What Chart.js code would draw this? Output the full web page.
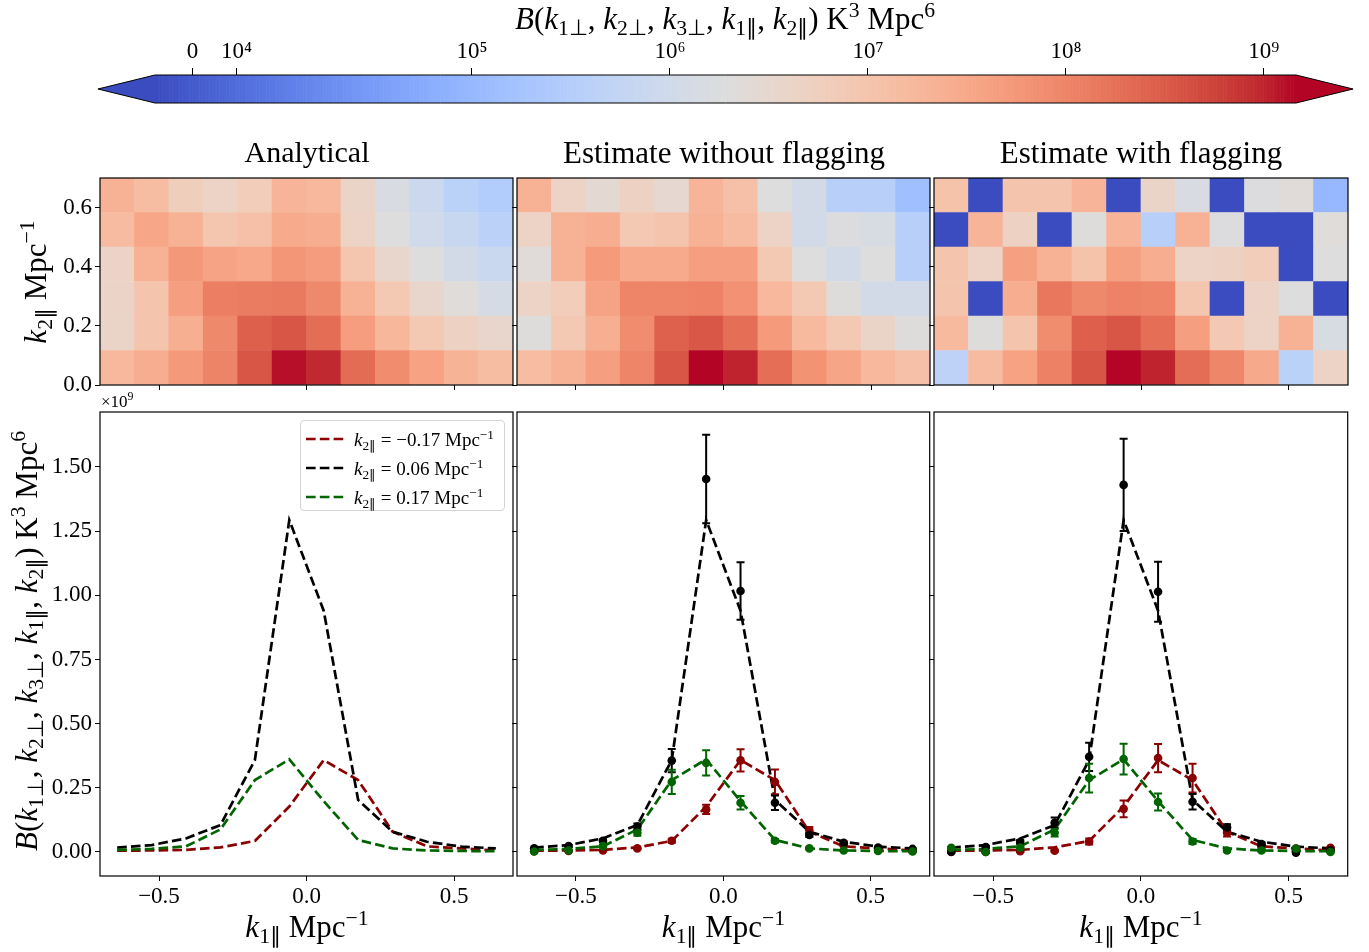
<!DOCTYPE html>
<html><head><meta charset="utf-8">
<script src="https://cdn.jsdelivr.net/npm/chart.js@4.4.1/dist/chart.umd.min.js"></script>
<style>
body{margin:0;background:#fff;}
#root{position:relative;width:1369px;height:952px;overflow:hidden;font-family:'Liberation Serif','Times New Roman',serif;color:#000;}
canvas{position:absolute;}
.lbl{position:absolute;white-space:nowrap;line-height:1;}
.lbl sub{font-size:70%;vertical-align:-0.3em;line-height:0;}
.lbl sup{font-size:70%;vertical-align:0.55em;line-height:0;}
#legend{position:absolute;left:300px;top:420px;width:205px;height:91px;border:1px solid #d4d4d4;border-radius:4px;background:rgba(255,255,255,0.85);box-sizing:border-box;}
#legend .row{position:absolute;left:0;height:22px;width:100%;}
#legend svg{position:absolute;left:5px;top:5px;}
#legend .txt{position:absolute;left:53px;top:1px;font-size:19px;white-space:nowrap;}
#legend sub{font-size:70%;vertical-align:-0.3em;line-height:0;}
#legend sup{font-size:70%;vertical-align:0.55em;line-height:0;}
</style></head>
<body><div id="root"></div>
<script>
// ---------------- DATA ----------------
// k1|| bin centres (Mpc^-1), shared by the heatmap columns and the line plots
const k1Centers = [-0.6417, -0.525, -0.4083, -0.2917, -0.175, -0.0583, 0.0583, 0.175, 0.2917, 0.4083, 0.525, 0.6417];
// k2|| bin edges of the heatmap rows (Mpc^-1)
const k2Edges = [0, 0.1167, 0.2333, 0.35, 0.4667, 0.5833, 0.7];

// Heatmaps: B in K^3 Mpc^6, rows from k2|| = 0.06 (bottom) to 0.64 (top)
const heatAnalytical = [
  [1.7e7, 2.7e7, 5.3e7, 1.05e8, 3.58e8, 1.29e9, 9.4e8, 2.03e8, 7.9e7, 4.0e7, 2.1e7, 1.4e7],
  [4e6, 1e7, 2.5e7, 9e7, 2.8e8, 3.6e8, 2e8, 4.7e7, 1.8e7, 8e6, 5e6, 3.5e6],
  [4.2e6, 1e7, 4.5e7, 1.2e8, 1.3e8, 1.4e8, 9e7, 2.2e7, 8e6, 3.5e6, 2.1e6, 1.3e6],
  [4.5e6, 2.2e7, 5.5e7, 3.8e7, 3.2e7, 6e7, 4.8e7, 9e6, 3.5e6, 1.9e6, 1.1e6, 7.5e5],
  [1.5e7, 3.5e7, 2.2e7, 9e6, 1.2e7, 3e7, 2.6e7, 4.5e6, 1.9e6, 1e6, 7e5, 4.2e5],
  [2.2e7, 1.4e7, 6e6, 4.5e6, 6.5e6, 2e7, 1.7e7, 4e6, 1.5e6, 8e5, 4e5, 2.8e5]
];
const heatNoFlag = [
  [1.4e7, 2.3e7, 4.4e7, 9.9e7, 3.56e8, 1.453e9, 1.017e9, 1.92e8, 6.6e7, 3.6e7, 1.7e7, 1.2e7],
  [2e6, 8e6, 2.5e7, 8e7, 2.73e8, 3.47e8, 1.92e8, 5e7, 1.6e7, 8e6, 4e6, 2e6],
  [4.5e6, 6.5e6, 3.8e7, 1e8, 1e8, 1.1e8, 7e7, 1.7e7, 8e6, 2e6, 1.1e6, 1.1e6],
  [2.2e6, 2.3e7, 5e7, 3e7, 3e7, 4.5e7, 4.5e7, 8e6, 1.9e6, 1.1e6, 1.9e6, 3.5e5],
  [4.5e6, 2.2e7, 2.6e7, 8e6, 1e7, 2.3e7, 1.5e7, 4.5e6, 1.1e6, 1.8e6, 1.4e6, 3.5e5],
  [2.2e7, 4.5e6, 2.8e6, 5e6, 3e6, 2e7, 1.2e7, 1.9e6, 1.1e6, 3.5e5, 3.5e5, 1.4e5]
];
// flagged cells carry a negative value (below the colour-scale minimum)
const heatFlag = [
  [4.5e5, 1.5e7, 4e7, 1.14e8, 3.71e8, 1.43e9, 1.014e9, 1.96e8, 9.6e7, 3.1e7, 4e5, 4.5e6],
  [1.6e7, 2e6, 1e7, 8e7, 2.88e8, 3.62e8, 1.95e8, 4.5e7, 8e6, 4.5e6, 2.2e7, 1.4e6],
  [1e7, -9e3, 2.6e7, 1.5e8, 9e7, 1.1e8, 1e8, 9e6, -9e3, 4.5e6, 1.9e6, -9e3],
  [1e7, 4.5e6, 4.3e7, 2.2e7, 1.1e7, 4.3e7, 2.6e7, 4.5e6, 5e6, 6.5e6, -9e3, 1.9e6],
  [-9e3, 2e7, 5e6, -9e3, 2e6, 2e7, 3.5e5, 2.2e7, 1.8e6, -9e3, -9e3, 2.1e6],
  [1.1e7, -9e3, 1e7, 1e7, 2e7, -9e3, 4e6, 1.5e6, -9e3, 1.8e6, 2.2e6, 1e5]
];

// Line plots: B in units of 1e9 K^3 Mpc^6
const seriesK2 = [-0.17, 0.06, 0.17];
const seriesColors = ['#8b0000', '#000000', '#006400'];
const analyticRed   = [0.005, 0.006, 0.008, 0.018, 0.043, 0.177, 0.358, 0.280, 0.079, 0.022, 0.014, 0.006];
const analyticBlack = [0.017, 0.027, 0.053, 0.105, 0.358, 1.293, 0.940, 0.203, 0.079, 0.040, 0.021, 0.014];
const analyticGreen = [0.008, 0.012, 0.022, 0.088, 0.280, 0.361, 0.198, 0.047, 0.014, 0.006, 0.004, 0.003];

const noFlagRed   = [0.003, 0.004, 0.006, 0.014, 0.044, 0.166, 0.357, 0.273, 0.085, 0.026, 0.006, 0.004];
const noFlagBlack = [0.014, 0.023, 0.044, 0.099, 0.356, 1.453, 1.017, 0.192, 0.066, 0.036, 0.017, 0.012];
const noFlagGreen = [0.002, 0.006, 0.023, 0.075, 0.273, 0.347, 0.192, 0.044, 0.014, 0.006, 0.004, 0.002];
const noFlagErrRed   = [0.001, 0.001, 0.002, 0.003, 0.008, 0.018, 0.043, 0.048, 0.012, 0.004, 0.002, 0.001];
const noFlagErrBlack = [0.003, 0.004, 0.006, 0.012, 0.045, 0.172, 0.112, 0.028, 0.008, 0.005, 0.003, 0.002];
const noFlagErrGreen = [0.001, 0.002, 0.004, 0.012, 0.047, 0.049, 0.026, 0.007, 0.003, 0.002, 0.001, 0.001];

const flagRed   = [0.000, 0.000, 0.003, 0.005, 0.041, 0.168, 0.366, 0.288, 0.075, 0.022, 0.013, 0.016];
const flagBlack = [0.001, 0.019, 0.039, 0.114, 0.371, 1.430, 1.014, 0.196, 0.096, 0.031, -0.003, 0.007];
const flagGreen = [0.016, 0.000, 0.017, 0.075, 0.288, 0.362, 0.195, 0.041, 0.006, 0.006, 0.013, 0.000];
const flagErrRed   = [0.002, 0.002, 0.003, 0.004, 0.012, 0.033, 0.055, 0.056, 0.015, 0.005, 0.003, 0.003];
const flagErrBlack = [0.004, 0.005, 0.008, 0.020, 0.055, 0.180, 0.117, 0.030, 0.012, 0.006, 0.004, 0.003];
const flagErrGreen = [0.003, 0.002, 0.004, 0.015, 0.056, 0.060, 0.033, 0.010, 0.004, 0.003, 0.003, 0.002];

// Ticks
const k1Ticks = [-0.5, 0, 0.5];
const k2Ticks = [0, 0.2, 0.4, 0.6];
const bTicks = [0, 0.25, 0.5, 0.75, 1.0, 1.25, 1.5];
const cbTicks = [0, 1e4, 1e5, 1e6, 1e7, 1e8, 1e9];
const cbTickLabels = ['0', '10⁴', '10⁵', '10⁶', '10⁷', '10⁸', '10⁹'];

// ---------------- COLOUR NORM (symlog + coolwarm) ----------------
const LINTHRESH = 5e4, LINSCALE = 1, VMIN = -8.5e3, VMAX = 1.453e9;
const linA = LINSCALE / (1 - 1 / 10);
function symlog(v) { const a = Math.abs(v), s = v < 0 ? -1 : 1; return s * (a <= LINTHRESH ? a / LINTHRESH * linA : linA + Math.log10(a / LINTHRESH)); }
const PMIN = symlog(VMIN), PMAX = symlog(VMAX);
const CW_R = [0.2298057,0.26623388,0.30386891,0.342804478,0.38301334,0.424369608,0.46666708,0.509635204,0.552953156,0.596262162,0.639176211,0.681291281,0.722193294,0.761464949,0.798691636,0.833466556,0.865395197,0.897787179,0.924127593,0.944468518,0.958852946,0.96732803,0.969954137,0.966811177,0.958003065,0.943660866,0.923944917,0.89904617,0.869186849,0.834620542,0.795631745,0.752534934,0.705673158];
const CW_G = [0.298717966,0.353094838,0.406535296,0.458757618,0.50941904,0.558148092,0.604562568,0.648280772,0.688929332,0.726149107,0.759599947,0.788964712,0.813952739,0.834302879,0.849786142,0.860207984,0.86541021,0.848937047,0.827384882,0.800927443,0.769767752,0.734132809,0.694266682,0.650421156,0.602842431,0.551750968,0.49730856,0.439559467,0.378313092,0.312874446,0.24128379,0.157246067,0.01555616];
const CW_B = [0.753683153,0.801466763,0.84495867,0.883725899,0.917387822,0.945619588,0.968154911,0.98478814,0.995375608,0.999836203,0.998151185,0.990363227,0.976574709,0.956945269,0.931688648,0.901068838,0.865395561,0.820880546,0.774508472,0.726736146,0.678007945,0.628751763,0.579375448,0.530263762,0.481775914,0.434243684,0.387970225,0.343229596,0.300267182,0.259301199,0.220525627,0.184115123,0.150232812];
function coolwarm(t) {
  t = Math.max(0, Math.min(1, t));
  const f = t * 32, i = Math.min(31, Math.floor(f)), u = f - i;
  const c = arr => Math.round(255 * (arr[i] + (arr[i + 1] - arr[i]) * u));
  return 'rgb(' + c(CW_R) + ',' + c(CW_G) + ',' + c(CW_B) + ')';
}
function cellColor(v) { return coolwarm((symlog(v) - PMIN) / (PMAX - PMIN)); }

// ---------------- HELPERS ----------------
const FONT = "'Liberation Serif','Times New Roman',serif";
Chart.defaults.font.family = FONT;
Chart.defaults.color = '#000';
const root = document.getElementById('root');
function mkCanvas(left, top, w, h) {
  const c = document.createElement('canvas');
  c.width = w; c.height = h;
  c.style.left = left + 'px'; c.style.top = top + 'px';
  c.style.width = w + 'px'; c.style.height = h + 'px';
  root.appendChild(c);
  return c;
}
function addLabel(html, x, y, size, rot) {
  const d = document.createElement('div');
  d.className = 'lbl';
  d.innerHTML = html;
  d.style.left = x + 'px'; d.style.top = y + 'px'; d.style.fontSize = size + 'px';
  d.style.transform = 'translate(-50%,-50%)' + (rot ? ' rotate(-90deg)' : '');
  root.appendChild(d);
}
const fmt = (v, d) => (v < 0 ? '−' : '') + Math.abs(v).toFixed(d);
const gridOpts = { display: true, drawOnChartArea: false, drawTicks: true, tickLength: 5, color: '#000', lineWidth: 1, offset: false };
const framePlugin = {
  id: 'frame',
  afterDraw(chart) {
    const a = chart.chartArea, ctx = chart.ctx;
    ctx.save(); ctx.strokeStyle = '#000'; ctx.lineWidth = 1.2;
    ctx.strokeRect(a.left, a.top, a.right - a.left, a.bottom - a.top);
    ctx.restore();
  }
};
const errorBarPlugin = {
  id: 'errbars',
  beforeDatasetDraw(chart, args) {
    const ds = chart.data.datasets[args.index];
    if (!ds.firstPoints) return;
    const ctx = chart.ctx, x = chart.scales.x, y = chart.scales.y;
    ctx.save();
    chart.data.datasets.forEach(d => {
      if (!d.errors) return;
      ctx.strokeStyle = d.backgroundColor; ctx.lineWidth = 2;
      d.data.forEach((p, i) => {
        const px = x.getPixelForValue(p.x);
        const y0 = y.getPixelForValue(p.y - d.errors[i]), y1 = y.getPixelForValue(p.y + d.errors[i]);
        ctx.beginPath();
        ctx.moveTo(px, y0); ctx.lineTo(px, y1);
        ctx.moveTo(px - 4, y0); ctx.lineTo(px + 4, y0);
        ctx.moveTo(px - 4, y1); ctx.lineTo(px + 4, y1);
        ctx.stroke();
      });
    });
    ctx.restore();
  }
};
const tickFont = { family: FONT, size: 23 };
const PADT = 22, HX_HEAT = 22, HX_LINE = 62;

// ---------------- COLORBAR ----------------
const colorbarPlugin = {
  id: 'cbar',
  beforeDatasetsDraw(chart) {
    const ctx = chart.ctx, a = chart.chartArea, xs = chart.scales.x;
    const N = 800;
    for (let k = 0; k < N; k++) {
      const p0 = PMIN + (PMAX - PMIN) * k / N, p1 = PMIN + (PMAX - PMIN) * (k + 1) / N;
      const x0 = xs.getPixelForValue(p0), x1 = xs.getPixelForValue(p1);
      ctx.fillStyle = coolwarm((k + 0.5) / N);
      ctx.fillRect(x0, a.top, x1 - x0 + 0.6, a.bottom - a.top);
    }
    const tri = (a.right - a.left) * 0.05, mid = (a.top + a.bottom) / 2;
    ctx.fillStyle = coolwarm(0);
    ctx.beginPath(); ctx.moveTo(a.left, a.top); ctx.lineTo(a.left - tri, mid); ctx.lineTo(a.left, a.bottom); ctx.closePath(); ctx.fill();
    ctx.fillStyle = coolwarm(1);
    ctx.beginPath(); ctx.moveTo(a.right, a.top); ctx.lineTo(a.right + tri, mid); ctx.lineTo(a.right, a.bottom); ctx.closePath(); ctx.fill();
    ctx.strokeStyle = '#000'; ctx.lineWidth = 1;
    ctx.beginPath();
    ctx.moveTo(a.left, a.top); ctx.lineTo(a.right, a.top); ctx.lineTo(a.right + tri, mid); ctx.lineTo(a.right, a.bottom);
    ctx.lineTo(a.left, a.bottom); ctx.lineTo(a.left - tri, mid); ctx.closePath(); ctx.stroke();
  }
};
new Chart(mkCanvas(90, 30, 1279, 85), {
  type: 'scatter',
  data: { datasets: [{ data: [] }] },
  options: {
    responsive: false, animation: false, events: [],
    layout: { padding: { left: 65, right: 73, top: 0, bottom: 12 } },
    plugins: { legend: { display: false }, tooltip: { enabled: false } },
    scales: {
      x: {
        type: 'linear', position: 'top', min: PMIN, max: PMAX,
        afterBuildTicks: s => { s.ticks = cbTicks.map(v => ({ value: symlog(v) })); },
        afterFit: s => { s.height = 45; },
        ticks: { callback: (v, i) => cbTickLabels[i], font: { family: FONT, size: 23 }, padding: 2, maxRotation: 0, autoSkip: false },
        grid: { display: true, drawOnChartArea: false, drawTicks: true, tickLength: 7, color: '#000' },
        border: { display: false }
      },
      y: { display: false, min: 0, max: 1 }
    }
  },
  plugins: [colorbarPlugin]
});

// ---------------- HEATMAPS ----------------
function heatChart(grid, left, width, wy, showLabels) {
  const datasets = grid.map((row, r) => ({
    data: k1Centers.map(k1 => ({ x: k1, y: [k2Edges[r], k2Edges[r + 1]] })),
    backgroundColor: row.map(cellColor),
    borderWidth: 0, grouped: false, barPercentage: 1, categoryPercentage: 1
  }));
  new Chart(mkCanvas(left, 178 - PADT, width, PADT + 207 + HX_HEAT), {
    type: 'bar',
    data: { datasets },
    options: {
      responsive: false, animation: false, events: [],
      layout: { padding: { top: PADT, right: 4, left: 0, bottom: 0 } },
      plugins: { legend: { display: false }, tooltip: { enabled: false } },
      scales: {
        x: {
          type: 'linear', min: -0.7, max: 0.7, offset: false,
          afterBuildTicks: s => { s.ticks = k1Ticks.map(v => ({ value: v })); },
          afterFit: s => { s.height = HX_HEAT; },
          ticks: { display: false }, grid: gridOpts, border: { display: false }
        },
        y: {
          type: 'linear', min: 0, max: 0.7,
          afterBuildTicks: s => { s.ticks = k2Ticks.map(v => ({ value: v })); },
          afterFit: s => { s.width = wy; },
          ticks: { display: showLabels, callback: v => fmt(v, 1), font: tickFont, padding: 3 },
          grid: gridOpts, border: { display: false }
        }
      }
    },
    plugins: [framePlugin]
  });
}
heatChart(heatAnalytical, 0, 517, 100, true);
heatChart(heatNoFlag, 509, 425, 8, false);
heatChart(heatFlag, 926, 426, 8, false);

// ---------------- LINE PANELS ----------------
const analytic = [analyticRed, analyticBlack, analyticGreen];
function lineChart(est, errs, left, width, wy, showLabels) {
  const datasets = analytic.map((vals, j) => ({
    data: k1Centers.map((x, i) => ({ x, y: vals[i] })),
    showLine: true, borderColor: seriesColors[j], borderWidth: 2.7, borderDash: [9.6, 4.2],
    pointRadius: 0, order: 10 - j
  }));
  if (est) est.forEach((vals, j) => datasets.push({
    data: k1Centers.map((x, i) => ({ x, y: vals[i] })),
    showLine: false, pointRadius: 4.3, backgroundColor: seriesColors[j], borderWidth: 0,
    errors: errs[j], firstPoints: j === 0, order: 3 - j
  }));
  new Chart(mkCanvas(left, 412 - PADT, width, PADT + 464 + HX_LINE), {
    type: 'scatter',
    data: { datasets },
    options: {
      responsive: false, animation: false, events: [],
      layout: { padding: { top: PADT, right: 4, left: 0, bottom: 0 } },
      plugins: { legend: { display: false }, tooltip: { enabled: false } },
      scales: {
        x: {
          type: 'linear', min: -0.7, max: 0.7,
          afterBuildTicks: s => { s.ticks = k1Ticks.map(v => ({ value: v })); },
          afterFit: s => { s.height = HX_LINE; },
          ticks: { callback: v => fmt(v, 1), font: tickFont, padding: 2, maxRotation: 0, autoSkip: false },
          grid: gridOpts, border: { display: false }
        },
        y: {
          type: 'linear', min: -0.0935, max: 1.714,
          afterBuildTicks: s => { s.ticks = bTicks.map(v => ({ value: v })); },
          afterFit: s => { s.width = wy; },
          ticks: { display: showLabels, callback: v => fmt(v, 2), font: tickFont, padding: 3 },
          grid: gridOpts, border: { display: false }
        }
      }
    },
    plugins: [errorBarPlugin, framePlugin]
  });
}
lineChart(null, null, 0, 517, 100, true);
lineChart([noFlagRed, noFlagBlack, noFlagGreen], [noFlagErrRed, noFlagErrBlack, noFlagErrGreen], 509, 425, 8, false);
lineChart([flagRed, flagBlack, flagGreen], [flagErrRed, flagErrBlack, flagErrGreen], 926, 426, 8, false);

// ---------------- TEXT ----------------
const bLabel = '<i>B</i>(<i>k</i><sub>1⊥</sub>, <i>k</i><sub>2⊥</sub>, <i>k</i><sub>3⊥</sub>, <i>k</i><sub>1∥</sub>, <i>k</i><sub>2∥</sub>) K<sup>3</sup> Mpc<sup>6</sup>';
addLabel(bLabel, 725, 18, 31, false);
addLabel('Analytical', 307, 152, 30, false);
addLabel('Estimate without flagging', 724, 152, 31, false);
addLabel('Estimate with flagging', 1141, 152, 31, false);
addLabel('<i>k</i><sub>2∥</sub> Mpc<sup>−1</sup>', 35, 282, 31, true);
addLabel(bLabel, 26, 641, 31, true);
[307, 723.5, 1141].forEach(x => addLabel('<i>k</i><sub>1∥</sub> Mpc<sup>−1</sup>', x, 926, 31, false));
const off = document.createElement('div');
off.className = 'lbl'; off.style.left = '101px'; off.style.top = '393px'; off.style.fontSize = '17px';
off.innerHTML = '×10<sup>9</sup>';
root.appendChild(off);

// legend
const leg = document.createElement('div'); leg.id = 'legend'; root.appendChild(leg);
seriesK2.forEach((k, j) => {
  const row = document.createElement('div'); row.className = 'row'; row.style.top = (7 + 29 * j) + 'px';
  row.innerHTML = '<svg width="40" height="12"><line x1="0" y1="6" x2="38" y2="6" stroke="' + seriesColors[j] +
    '" stroke-width="2.6" stroke-dasharray="9.6 4.2"/></svg><div class="txt"><i>k</i><sub>2∥</sub> = ' + fmt(k, 2) + ' Mpc<sup>−1</sup></div>';
  leg.appendChild(row);
});
</script>
</body></html>
